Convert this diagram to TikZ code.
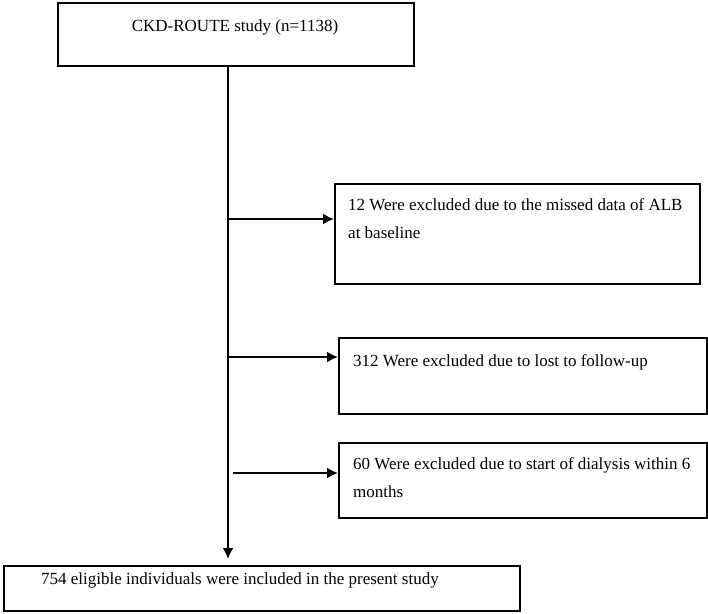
\documentclass[tikz,border=0pt]{standalone}
\usepackage{fontspec}
\setmainfont{Liberation Serif}
\usetikzlibrary{arrows.meta}

\begin{document}
\begin{tikzpicture}[x=1pt, y=-1pt]
	\tikzset{frame/.style = {draw, line width=1.6pt, inner sep=0pt, anchor=north west}}
	\tikzset{txt/.style = {inner sep=0pt, align=left, font=\fontsize{17}{28}\selectfont}}
	\tikzset{arr/.style = {-{Latex[length=11pt,width=11pt]}, line width=2pt}}
	\useasboundingbox (0,0) rectangle (708,613);
	% boxes
	\node[frame, minimum width=356, minimum height=63] (study) at (57,2) {};
	\node[frame, minimum width=365, minimum height=100] (exA) at (334,183) {};
	\node[frame, minimum width=368, minimum height=76] (exB) at (338,337) {};
	\node[frame, minimum width=368, minimum height=75] (exC) at (338,442) {};
	\node[frame, minimum width=516, minimum height=45] (final) at (3,565) {};
	% texts (base = last line)
	\node[txt, anchor=base] (studyT) at (235,31) {CKD-ROUTE study (n=1138)};
	\node[txt, anchor=base west] (exAT) at (348,238)
		{12 Were excluded due to the missed data of ALB\\at baseline};
	\node[txt, anchor=base west] (exBT) at (353,366) {312 Were excluded due to lost to follow-up};
	\node[txt, anchor=base west] (exCT) at (353,497)
		{60 Were excluded due to start of dialysis within 6\\months};
	\node[txt, anchor=base west] (finalT) at (41,584) {754 eligible individuals were included in the present study};
	% connectors
	\coordinate (top) at (228,65);
	\coordinate (jA) at (228,219);
	\coordinate (jB) at (228,357);
	\coordinate (jC) at (233,473);
	\draw[arr] (top) -- ([yshift=6pt]top |- final.north);
	\draw[arr] (jA) -- (jA -| exA.west);
	\draw[arr] (jB) -- (jB -| exB.west);
	\draw[arr] (jC) -- (jC -| exC.west);
\end{tikzpicture}
\end{document}
